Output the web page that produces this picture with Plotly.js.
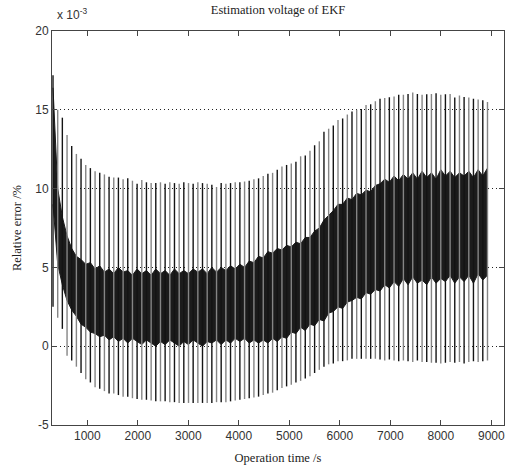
<!DOCTYPE html>
<html>
<head>
<meta charset="utf-8">
<script src="https://cdn.plot.ly/plotly-3.0.1.min.js"></script>
<style>html,body{margin:0;padding:0;background:#fff;}</style>
</head>
<body>
<div id="chart" style="width:507px;height:467px;"></div>
<script>
// Pulse times (s)
const spikeTime = [320,413,505,598,690,783,875,968,1060,1153,1245,1338,1430,1523,1615,1708,1800,1893,1985,2078,
  2170,2263,2355,2448,2540,2633,2725,2818,2910,3003,3095,3188,3280,3373,3465,3558,3650,3743,3835,3928,
  4020,4113,4205,4298,4390,4483,4575,4668,4760,4853,4945,5038,5130,5223,5315,5408,5500,5593,5685,5778,
  5870,5963,6055,6148,6240,6333,6425,6518,6610,6703,6795,6888,6980,7073,7165,7258,7350,7443,7535,7628,
  7720,7813,7905,7998,8090,8183,8275,8368,8460,8553,8645,8738,8830,8923];
// Upper peak of each pulse (x 10^-3 %)
const spikeTop = [17.2,15.0,14.5,13.4,12.7,12.2,11.9,11.5,11.3,11.1,11.0,10.9,10.75,10.7,10.7,10.6,10.65,10.5,10.3,10.55,
  10.4,10.35,10.35,10.4,10.3,10.4,10.35,10.3,10.4,10.35,10.3,10.4,10.35,10.3,10.25,10.1,10.35,10.3,10.35,10.4,
  10.4,10.45,10.5,10.6,10.65,10.8,10.95,11.0,11.2,11.4,11.5,11.6,11.7,12.05,12.1,12.4,12.75,13.0,13.6,13.8,
  14.0,14.35,14.45,14.7,14.9,15.0,15.05,15.3,15.35,15.55,15.7,15.75,15.8,15.85,15.95,15.95,16.0,16.1,16.0,15.95,
  15.98,16.0,16.05,15.95,15.98,16.0,15.78,15.9,15.82,15.78,15.7,15.65,15.6,15.5];
// Lower trough of each pulse
const spikeBottom = [2.5,1.8,1.1,-0.6,-0.9,-1.3,-1.7,-2.1,-2.3,-2.6,-2.7,-2.85,-3.0,-3.0,-3.1,-3.2,-3.2,-3.3,-3.35,-3.4,
  -3.4,-3.45,-3.5,-3.5,-3.5,-3.55,-3.55,-3.6,-3.6,-3.6,-3.6,-3.6,-3.6,-3.6,-3.6,-3.55,-3.55,-3.55,-3.5,-3.45,
  -3.4,-3.35,-3.3,-3.25,-3.2,-3.1,-3.0,-2.95,-2.8,-2.65,-2.55,-2.45,-2.3,-2.2,-2.05,-1.9,-1.7,-1.5,-1.3,-1.15,
  -1.1,-0.95,-0.95,-0.9,-0.8,-0.8,-0.8,-0.8,-0.8,-0.8,-0.85,-0.9,-0.85,-0.9,-0.95,-0.9,-0.95,-1.0,-0.9,-1.0,
  -1.0,-1.05,-1.05,-1.1,-1.05,-1.0,-1.05,-1.0,-1.1,-1.0,-0.95,-1.0,-0.95,-0.9];
// Dense noise band: upper and lower edge
const bandHigh = [16.4,10.0,8.2,7.0,6.2,5.7,5.5,5.2,5.3,4.9,5.1,4.7,4.9,4.6,5.0,4.7,4.8,4.5,4.9,4.6,
  4.8,4.5,4.9,4.6,4.8,4.5,4.9,4.6,4.8,4.6,4.9,4.7,4.9,4.6,5.0,4.7,5.0,4.8,5.1,4.9,
  5.2,5.0,5.4,5.3,5.7,5.6,6.0,5.9,6.2,6.1,6.4,6.3,6.6,6.5,6.9,6.9,7.3,7.5,8.0,8.3,
  8.6,9.0,9.0,9.4,9.3,9.7,9.6,9.9,9.8,10.2,10.3,10.6,10.4,10.8,10.5,10.9,10.6,11.0,10.6,11.1,
  10.7,11.0,10.6,11.2,10.8,11.1,10.7,11.0,10.8,11.1,10.7,11.2,10.8,11.3];
const bandLow = [9.0,5.2,3.9,2.9,2.3,1.9,1.4,1.2,0.9,0.8,0.6,0.7,0.4,0.6,0.3,0.5,0.2,0.5,0.3,0.1,
  0.4,0.2,0.0,0.3,0.1,0.4,0.2,0.0,0.3,0.1,0.4,0.2,0.0,0.3,0.2,0.4,0.1,0.4,0.2,0.5,
  0.3,0.5,0.2,0.4,0.2,0.4,0.2,0.5,0.3,0.6,0.5,0.9,0.8,1.2,1.0,1.4,1.3,1.7,1.6,2.1,
  2.2,2.5,2.4,2.8,2.9,3.1,3.0,3.4,3.3,3.6,3.5,3.9,3.7,4.1,3.8,4.3,3.9,4.4,4.0,4.2,
  3.9,4.4,4.0,4.3,4.1,4.5,4.0,4.4,4.1,4.5,4.0,4.6,4.2,4.5];

const xTicks = [1000,2000,3000,4000,5000,6000,7000,8000,9000];
const xTickText = ['1000','2000','3000','4000','5000','6000','7000','8000','9000'];
const yTicks = [-5,0,5,10,15,20];
const yTickText = ['-5','0','5','10','15','20'];

// Build band polygon
const bandX = spikeTime.concat(spikeTime.slice().reverse());
const bandY = bandHigh.concat(bandLow.slice().reverse());

// Build alternating black / gray pulse segments
const bx = [], by = [], gx = [], gy = [];
spikeTime.forEach((t, i) => {
  const tx = (i % 2 === 0) ? bx : gx;
  const ty = (i % 2 === 0) ? by : gy;
  tx.push(t, t, null);
  ty.push(spikeTop[i], spikeBottom[i], null);
});

const serif = 'Liberation Serif, Times New Roman, serif';
const sans = 'Liberation Sans, Arial, sans-serif';

const traces = [
  {x: bandX, y: bandY, type: 'scatter', mode: 'lines', fill: 'toself',
   fillcolor: '#1b1b1b', line: {color: '#1b1b1b', width: 1}, hoverinfo: 'skip'},
  {x: bx, y: by, type: 'scatter', mode: 'lines', line: {color: '#141414', width: 1.4}, hoverinfo: 'skip'},
  {x: gx, y: gy, type: 'scatter', mode: 'lines', line: {color: '#858585', width: 1.4}, hoverinfo: 'skip'}
];

const layout = {
  width: 507, height: 467,
  margin: {l: 52, r: 3, t: 31, b: 42, pad: 0},
  paper_bgcolor: '#ffffff', plot_bgcolor: '#ffffff',
  showlegend: false,
  title: {text: 'Estimation voltage of EKF', font: {family: serif, size: 12.5, color: '#222'},
          xref: 'container', x: 278/507, xanchor: 'center', yref: 'container', y: 1 - 10/467, yanchor: 'middle'},
  xaxis: {range: [300, 9250], tickvals: xTicks, ticktext: xTickText, ticks: 'inside', ticklen: 5,
          tickcolor: '#444', showline: true, linecolor: '#444', linewidth: 1, mirror: 'ticks',
          showgrid: false, zeroline: false, tickfont: {family: sans, size: 12, color: '#333'},
          title: {text: 'Operation time /s', font: {family: serif, size: 12.5, color: '#222'}, standoff: 10}},
  yaxis: {range: [-5, 20], tickvals: yTicks, ticktext: yTickText, ticks: 'inside', ticklen: 5,
          tickcolor: '#444', showline: true, linecolor: '#444', linewidth: 1, mirror: 'ticks',
          showgrid: true, gridcolor: '#222', griddash: '1px,3px', gridwidth: 1, zeroline: false,
          tickfont: {family: sans, size: 12, color: '#333'},
          title: {text: 'Relative error /%', font: {family: serif, size: 12.5, color: '#222'}, standoff: 10}},
  annotations: [{xref: 'paper', yref: 'paper', x: 0.006, y: 1.042, xanchor: 'left', yanchor: 'middle',
                 showarrow: false, text: 'x 10<sup>-3</sup>', font: {family: sans, size: 12, color: '#333'}}]
};

Plotly.newPlot('chart', traces, layout, {displayModeBar: false, staticPlot: true});
</script>
</body>
</html>
